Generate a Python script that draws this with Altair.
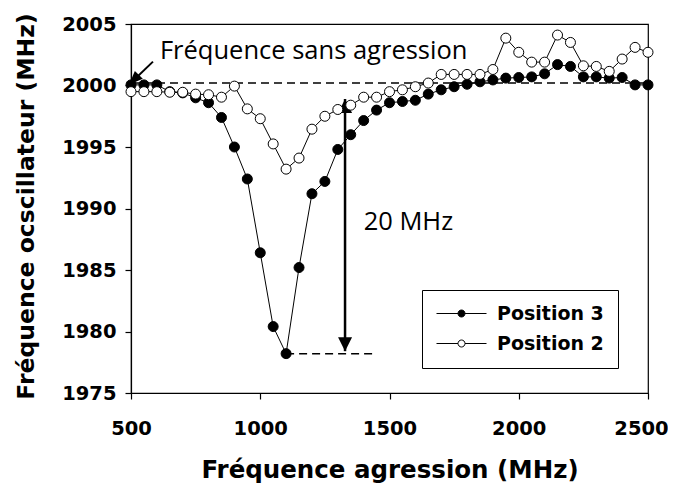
import altair as alt
import pandas as pd

# ---------------- data ----------------
freq = list(range(500, 2501, 50))
pos3 = [2000.05, 2000.05, 2000.05, 1999.5, 1999.4, 1999.0, 1998.6, 1997.4, 1995.0, 1992.4,
        1986.4, 1980.4, 1978.2, 1985.2, 1991.2, 1992.2, 1994.8, 1996.0, 1997.15, 1998.0,
        1998.6, 1998.7, 1998.8, 1999.3, 1999.65, 1999.9, 2000.1, 2000.3, 2000.45, 2000.6,
        2000.65, 2000.7, 2000.95, 2001.7, 2001.55, 2000.7, 2000.7, 2000.6, 2000.65, 2000.05,
        2000.05]
pos2 = [1999.5, 1999.5, 1999.5, 1999.45, 1999.45, 1999.3, 1999.25, 1999.05, 1999.95, 1998.1,
        1997.3, 1995.25, 1993.2, 1994.1, 1996.45, 1997.5, 1998.05, 1998.4, 1999.05, 1999.05,
        1999.5, 1999.65, 1999.9, 2000.2, 2000.9, 2000.9, 2000.9, 2000.9, 2001.3, 2003.85,
        2002.7, 2001.9, 2001.9, 2004.1, 2003.5, 2001.6, 2001.55, 2001.15, 2002.15, 2003.1,
        2002.7]
series_names = ["Position 3", "Position 2"]
series_fill = ["black", "white"]

x_ticks = [500, 1000, 1500, 2000, 2500]
y_ticks = [1975, 1980, 1985, 1990, 1995, 2000, 2005]

# annotations
ref_level = 2000.2                 # dashed "no aggression" level
ref_x = [500, 2500]
min_level = 1978.2                 # dashed level at minimum
min_x = [1100, 1440]
arrow_x = 1328                     # 20 MHz double arrow
arrow_top = 1998.9
arrow_bottom = 1978.4
diag_tail = (585, 2001.94)         # arrow toward first point
diag_tip = (492, 2000.06)
annot_text = ["Fréquence sans agression", "20 MHz"]
annot_x = [612, 1400]
annot_y = [2002.18, 1988.22]

# ---------------- tables ----------------
df = pd.DataFrame({
    "freq": freq * 2,
    "value": pos3 + pos2,
    "series": [series_names[0]] * len(freq) + [series_names[1]] * len(freq),
})

xscale = alt.Scale(domain=[500, 2500], nice=False, zero=False)
yscale = alt.Scale(domain=[1975, 2005], nice=False, zero=False)
XT = "Fréquence agression (MHz)"
YT = "Fréquence ocscillateur (MHz)"

xaxis = alt.Axis(values=x_ticks, format="d", titleX=258.5, titleY=84,
                 titleBaseline="alphabetic", titleAlign="center",
                 labelPadding=20, labelFlush=False,
                 labelOffset={"condition": {"test": "datum.value == 2500", "value": -7},
                              "value": 0})
yaxis = alt.Axis(values=y_ticks, format="d", titleX=-105, titleY=182,
                 titleAngle=-90, titleBaseline="middle", titleAlign="center",
                 labelPadding=9, labelFlush=False, titleFontSize=23.5)


def X(f):
    return alt.X(f, type="quantitative", scale=xscale, axis=xaxis, title=XT)


def Y(f):
    return alt.Y(f, type="quantitative", scale=yscale, axis=yaxis, title=YT)


lines = alt.Chart(df).mark_line(color="black", strokeWidth=1).encode(
    x=X("freq"), y=Y("value"), detail="series:N"
)

legend_symbol = ("M-5,0L-0.7,0M0.7,0L5,0M-0.7,0A0.7,0.7,0,1,1,0.7,0"
                 "A0.7,0.7,0,1,1,-0.7,0Z")

points = alt.Chart(df).mark_point(
    shape="circle", size=100, stroke="black", strokeWidth=1, opacity=1, filled=False
).encode(
    x=X("freq"), y=Y("value"),
    fill=alt.Fill("series:N",
                  scale=alt.Scale(domain=series_names, range=series_fill),
                  sort=series_names,
                  legend=alt.Legend(
                      title=None, orient="none", legendX=291, legendY=266,
                      symbolType=legend_symbol, symbolSize=100,
                      symbolStrokeColor="black", symbolStrokeWidth=1,
                      symbolOffset=16, labelOffset=26,
                      labelFont="DejaVu Sans", labelFontWeight="bold",
                      labelFontSize=19, labelColor="black",
                      rowPadding=10, padding=14,
                      strokeColor="black", fillColor="white")),
)

ref_df = pd.DataFrame({"x": [ref_x[0]], "x2": [ref_x[1]], "y": [ref_level]})
ref_rule = alt.Chart(ref_df).mark_rule(color="black", strokeWidth=1.5,
                                        strokeDash=[8, 5]).encode(
    x=X("x"), x2="x2", y=Y("y"))

min_df = pd.DataFrame({"x": [min_x[0]], "x2": [min_x[1]], "y": [min_level]})
min_rule = alt.Chart(min_df).mark_rule(color="black", strokeWidth=1.5,
                                        strokeDash=[8, 5]).encode(
    x=X("x"), x2="x2", y=Y("y"))

varrow_df = pd.DataFrame({"x": [arrow_x], "y": [arrow_top], "y2": [arrow_bottom]})
varrow = alt.Chart(varrow_df).mark_rule(color="black", strokeWidth=2.5).encode(
    x=X("x"), y=Y("y"), y2="y2")

head_up_df = pd.DataFrame({"x": [arrow_x], "y": [arrow_top]})
head_up = alt.Chart(head_up_df).mark_point(
    shape="M0,0L-1,2L1,2Z", size=196, filled=True, color="black", opacity=1,
    strokeWidth=0).encode(x=X("x"), y=Y("y"))

head_dn_df = pd.DataFrame({"x": [arrow_x], "y": [arrow_bottom]})
head_dn = alt.Chart(head_dn_df).mark_point(
    shape="M0,0L-1,-2L1,-2Z", size=196, filled=True, color="black", opacity=1,
    strokeWidth=0).encode(x=X("x"), y=Y("y"))

diag_df = pd.DataFrame({"x": [diag_tail[0]], "x2": [diag_tip[0]],
                        "y": [diag_tail[1]], "y2": [diag_tip[1]]})
diag = alt.Chart(diag_df).mark_rule(color="black", strokeWidth=2).encode(
    x=X("x"), x2="x2", y=Y("y"), y2="y2")

diag_head_df = pd.DataFrame({"x": [diag_tip[0]], "y": [diag_tip[1]]})
diag_head = alt.Chart(diag_head_df).mark_point(
    shape="M0,0L1.98,-0.85L0.85,-1.98Z", size=196, filled=True, color="black",
    opacity=1, strokeWidth=0).encode(x=X("x"), y=Y("y"))

text_df = pd.DataFrame({"x": annot_x, "y": annot_y, "t": annot_text})
texts = alt.Chart(text_df).mark_text(
    font="Open Sans", fontSize=25.5, align="left", baseline="alphabetic",
    color="black").encode(x=X("x"), y=Y("y"), text="t:N")

chart = alt.layer(
    ref_rule, min_rule, varrow, head_up, head_dn, diag, diag_head, texts,
    lines, points
).properties(
    width=517, height=369,
    autosize=alt.AutoSizeParams(type="none"),
    padding={"left": 123, "top": 16, "right": 20, "bottom": 90},
    background="white",
).configure_view(
    stroke="black", strokeWidth=1.2
).configure_axis(
    grid=False, domainColor="black", domainWidth=1.2, tickColor="black",
    tickSize=6, tickWidth=1.2,
    labelFont="DejaVu Sans", labelFontWeight="bold", labelFontSize=19.5,
    labelColor="black",
    titleFont="DejaVu Sans", titleFontWeight="bold", titleFontSize=24.5,
    titleColor="black",
)

chart.save("out.html", embed_options={"renderer": "svg", "actions": False})
